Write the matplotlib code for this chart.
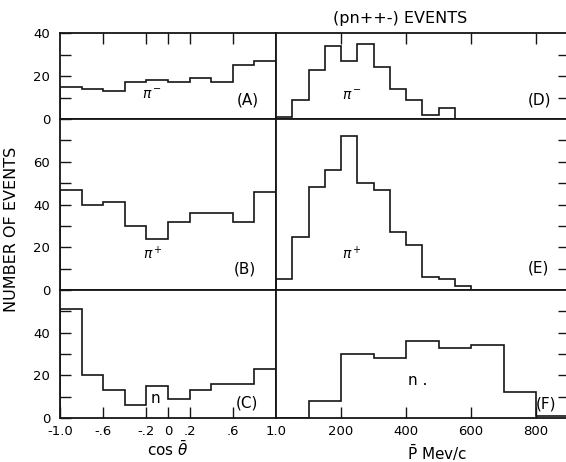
import numpy as np
import matplotlib
matplotlib.use("Agg")
import matplotlib.pyplot as plt

plt.rcParams['font.family'] = ['DejaVu Sans']

# cos(theta) histograms, bins of 0.2 from -1 to 1
cos_edges = [-1.0, -0.8, -0.6, -0.4, -0.2, 0.0, 0.2, 0.4, 0.6, 0.8, 1.0]
pim_cos = [15, 14, 13, 17, 18, 17, 19, 17, 25, 27]
pip_cos = [47, 40, 41, 30, 24, 32, 36, 36, 32, 46]
n_cos = [51, 20, 13, 6, 15, 9, 13, 16, 16, 23]

# momentum histograms
pim_edges = [0, 50, 100, 150, 200, 250, 300, 350, 400, 450, 500, 550]
pim_p = [1, 9, 23, 34, 27, 35, 24, 14, 9, 2, 5]
pip_edges = [0, 50, 100, 150, 200, 250, 300, 350, 400, 450, 500, 550, 600]
pip_p = [5, 25, 48, 56, 72, 50, 47, 27, 21, 6, 5, 2]
n_edges = [0, 100, 200, 300, 400, 500, 600, 700, 800, 900]
n_p = [0, 8, 30, 28, 36, 33, 34, 12, 1]

cos_ticks = [-1.0, -0.6, -0.2, 0, 0.2, 0.6, 1.0]
cos_labels = ['-1.0', '-.6', '-.2', '0', '.2', '.6', '1.0']
p_ticks = [200, 400, 600, 800]

W, H = 566, 462
fig = plt.figure(figsize=(W / 100, H / 100), dpi=100)

rows = [(33, 119, 40), (119, 290, 80), (290, 418, 60)]
xl0, xl1 = 60, 276
xr1 = 276 + 900 * 0.325

def box(x0, x1, y0, y1):
    return [x0 / W, 1 - y1 / H, (x1 - x0) / W, (y1 - y0) / H]

lc = '#151515'
tick_kw = dict(direction='in', length=8, width=1.0, color=lc, labelsize=9.5)

left_data = [pim_cos, pip_cos, n_cos]
right_data = [(pim_edges, pim_p), (pip_edges, pip_p), (n_edges, n_p)]
axl, axr = [], []
for i, (y0, y1, top) in enumerate(rows):
    a = fig.add_axes(box(xl0, xl1, y0, y1))
    a.stairs(left_data[i], cos_edges, color=lc, lw=1.2)
    a.set_xlim(-1, 1)
    a.set_ylim(0, top)
    yt = list(range(0, top + 1, 10))
    a.set_yticks(yt)
    a.set_yticklabels([str(v) if (v % 20 == 0 and v != top) or (i == 0 and v == top) else '' for v in yt])
    a.tick_params(axis='y', left=True, right=False, pad=7, **tick_kw)
    b = fig.add_axes(box(xl1, xr1, y0, y1))
    b.stairs(right_data[i][1], right_data[i][0], color=lc, lw=1.2)
    b.set_xlim(0, 900)
    b.set_ylim(0, top)
    b.set_yticks(list(range(10, top, 10)))
    b.tick_params(axis='y', left=False, right=True, labelleft=False, labelright=False, **tick_kw)
    for ax in (a, b):
        for s in ax.spines.values():
            s.set_linewidth(1.3)
            s.set_color(lc)
    axl.append(a)
    axr.append(b)

# x ticks
axl[0].set_xticks(cos_ticks[1:-1])
axl[0].tick_params(axis='x', top=True, bottom=False, labeltop=False, labelbottom=False, **tick_kw)
axl[1].set_xticks([])
axl[2].set_xticks(cos_ticks)
axl[2].set_xticklabels(cos_labels)
axl[2].tick_params(axis='x', top=False, bottom=True, pad=5, **tick_kw)
axr[0].set_xticks(p_ticks)
axr[0].tick_params(axis='x', top=True, bottom=False, labeltop=False, labelbottom=False, **tick_kw)
axr[1].set_xticks([])
axr[2].set_xticks(p_ticks)
axr[2].set_xticklabels([str(v) for v in p_ticks])
axr[2].tick_params(axis='x', top=False, bottom=True, pad=5, **tick_kw)

# panel labels
fs = 11
axl[0].text(0.741, 8.8, '(A)', ha='center', va='center', fontsize=fs)
axl[0].text(-0.148, 11.2, r'$\pi^-$', ha='center', va='center', fontsize=10)
axl[1].text(0.713, 9.8, '(B)', ha='center', va='center', fontsize=fs)
axl[1].text(-0.139, 16.9, r'$\pi^+$', ha='center', va='center', fontsize=10)
axl[2].text(0.731, 6.9, '(C)', ha='center', va='center', fontsize=fs)
axl[2].text(-0.12, 9.3, 'n', ha='center', va='center', fontsize=fs)
axr[0].text(812, 8.8, '(D)', ha='center', va='center', fontsize=fs)
axr[0].text(234, 10.7, r'$\pi^-$', ha='center', va='center', fontsize=10)
axr[1].text(809, 10.3, '(E)', ha='center', va='center', fontsize=fs)
axr[1].text(234, 16.9, r'$\pi^+$', ha='center', va='center', fontsize=10)
axr[2].text(831, 6.5, '(F)', ha='center', va='center', fontsize=fs)
axr[2].text(437, 17.8, 'n .', ha='center', va='center', fontsize=fs)

fig.text(400 / W, 1 - 18 / H, '(pn++-) EVENTS', ha='center', va='center', fontsize=11.5)
fig.text(12 / W, 1 - 229 / H, 'NUMBER OF EVENTS', rotation=90, ha='center', va='center', fontsize=11.5)
fig.text(168 / W, 1 - 449 / H, r'cos $\bar{\theta}$', ha='center', va='center', fontsize=11)
fig.text(437 / W, 1 - 453 / H, r'$\bar{\mathrm{P}}$ Mev/c', ha='center', va='center', fontsize=11)

fig.savefig('out.png', dpi=100)
